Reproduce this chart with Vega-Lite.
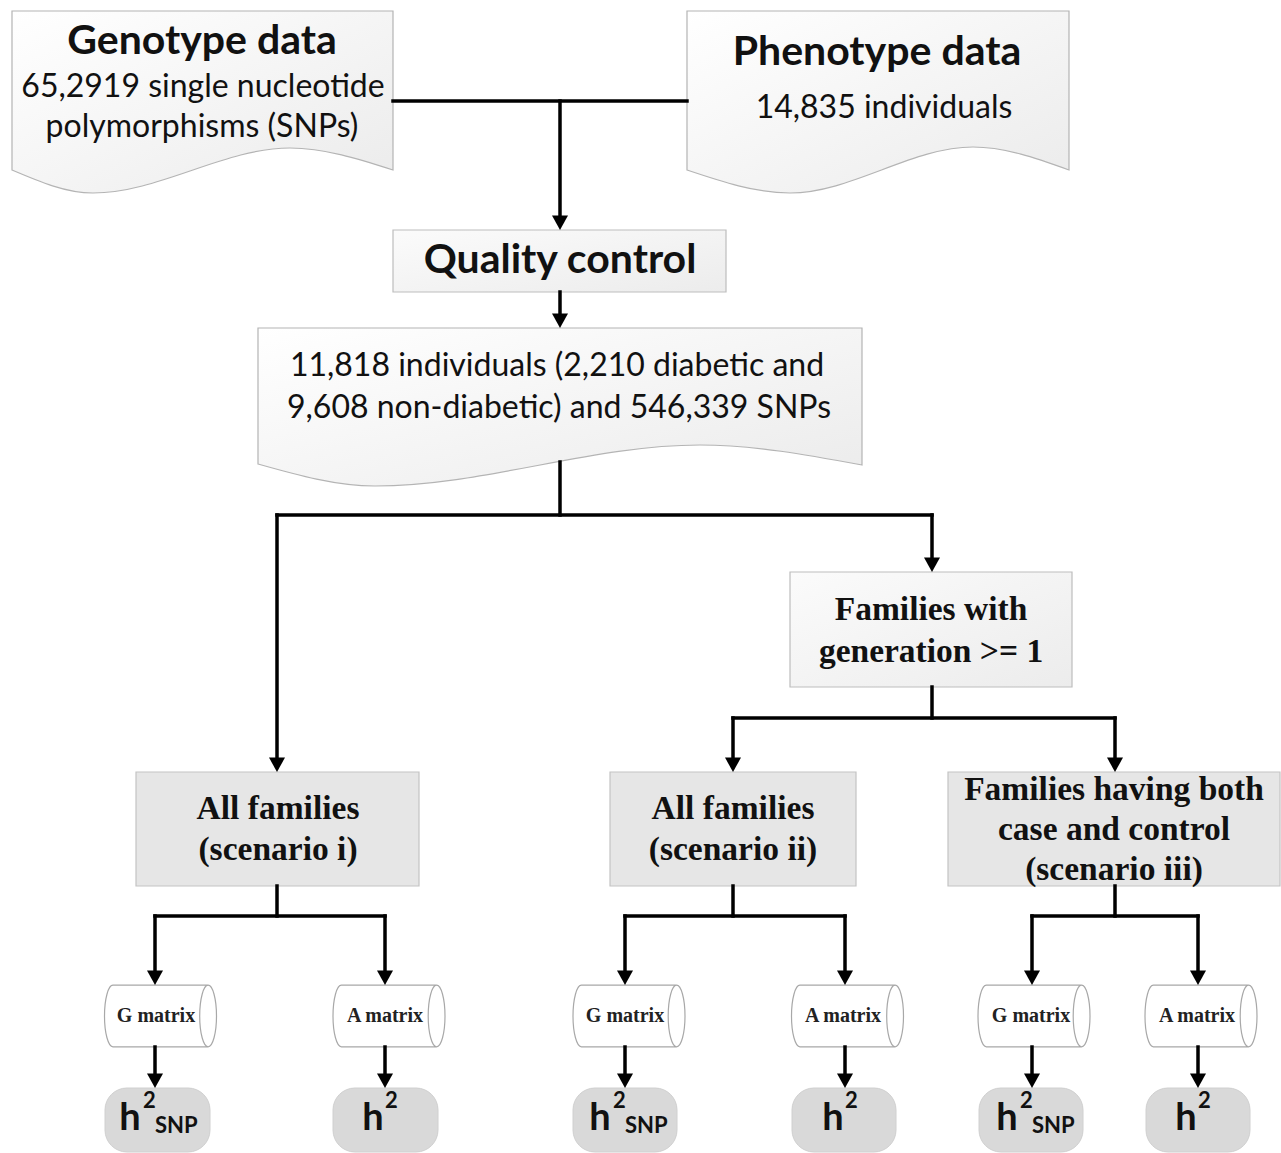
{
  "$schema": "https://vega.github.io/schema/vega-lite/v6.json",
  "width": 1281,
  "height": 1153,
  "padding": 0,
  "autosize": {"type": "none"},
  "background": "white",
  "config": {"view": {"stroke": null}},
  "datasets": {
    "docs": [
      {"doc": "geno", "x": 12, "yb": 170, "yt": 11},
      {"doc": "geno", "x": 93, "yb": 193, "yt": 11},
      {"doc": "geno", "x": 290, "yb": 148, "yt": 11},
      {"doc": "geno", "x": 393, "yb": 170, "yt": 11},
      {"doc": "pheno", "x": 687, "yb": 170, "yt": 11},
      {"doc": "pheno", "x": 790, "yb": 193, "yt": 11},
      {"doc": "pheno", "x": 973, "yb": 147, "yt": 11},
      {"doc": "pheno", "x": 1069, "yb": 170, "yt": 11},
      {"doc": "qc", "x": 258, "yb": 464, "yt": 328},
      {"doc": "qc", "x": 375, "yb": 486, "yt": 328},
      {"doc": "qc", "x": 700, "yb": 445, "yt": 328},
      {"doc": "qc", "x": 862, "yb": 465, "yt": 328}
    ],
    "lightBoxes": [
      {"name": "Quality control", "x1": 393, "x2": 726, "y1": 230, "y2": 292},
      {"name": "Families with generation", "x1": 790, "x2": 1072, "y1": 572, "y2": 687}
    ],
    "grayBoxes": [
      {"name": "scenario i", "x1": 136, "x2": 419, "y1": 772, "y2": 886},
      {"name": "scenario ii", "x1": 610, "x2": 856, "y1": 772, "y2": 886},
      {"name": "scenario iii", "x1": 948, "x2": 1280, "y1": 772, "y2": 886}
    ],
    "hBoxes": [
      {"kind": "SNP", "x1": 105, "x2": 210, "y1": 1088, "y2": 1152},
      {"kind": "A", "x1": 333, "x2": 438, "y1": 1088, "y2": 1152},
      {"kind": "SNP", "x1": 573, "x2": 677, "y1": 1088, "y2": 1152},
      {"kind": "A", "x1": 792, "x2": 896, "y1": 1088, "y2": 1152},
      {"kind": "SNP", "x1": 979, "x2": 1083, "y1": 1088, "y2": 1152},
      {"kind": "A", "x1": 1146, "x2": 1250, "y1": 1088, "y2": 1152}
    ],
    "cylinders": [
      {"label": "G matrix", "cx": 160.5, "cy": 1016},
      {"label": "A matrix", "cx": 389, "cy": 1016},
      {"label": "G matrix", "cx": 629, "cy": 1016},
      {"label": "A matrix", "cx": 847.5, "cy": 1016},
      {"label": "G matrix", "cx": 1034, "cy": 1016},
      {"label": "A matrix", "cx": 1201, "cy": 1016}
    ],
    "cylLabels": [
      {"label": "G matrix", "x": 156, "y": 1022},
      {"label": "A matrix", "x": 385, "y": 1022},
      {"label": "G matrix", "x": 625, "y": 1022},
      {"label": "A matrix", "x": 843, "y": 1022},
      {"label": "G matrix", "x": 1031, "y": 1022},
      {"label": "A matrix", "x": 1197, "y": 1022}
    ],
    "lines": [
      {"x": 393, "y": 101, "x2": 687, "y2": 101},
      {"x": 560, "y": 101, "x2": 560, "y2": 222},
      {"x": 560, "y": 292, "x2": 560, "y2": 320},
      {"x": 560, "y": 462, "x2": 560, "y2": 515},
      {"x": 277, "y": 515, "x2": 932, "y2": 515},
      {"x": 277, "y": 515, "x2": 277, "y2": 764},
      {"x": 932, "y": 515, "x2": 932, "y2": 564},
      {"x": 932, "y": 687, "x2": 932, "y2": 718},
      {"x": 733, "y": 718, "x2": 1115, "y2": 718},
      {"x": 733, "y": 718, "x2": 733, "y2": 764},
      {"x": 1115, "y": 718, "x2": 1115, "y2": 764},
      {"x": 277, "y": 886, "x2": 277, "y2": 916},
      {"x": 155, "y": 916, "x2": 385, "y2": 916},
      {"x": 155, "y": 916, "x2": 155, "y2": 977},
      {"x": 385, "y": 916, "x2": 385, "y2": 977},
      {"x": 733, "y": 886, "x2": 733, "y2": 916},
      {"x": 625, "y": 916, "x2": 845, "y2": 916},
      {"x": 625, "y": 916, "x2": 625, "y2": 977},
      {"x": 845, "y": 916, "x2": 845, "y2": 977},
      {"x": 1115, "y": 886, "x2": 1115, "y2": 916},
      {"x": 1032, "y": 916, "x2": 1198, "y2": 916},
      {"x": 1032, "y": 916, "x2": 1032, "y2": 977},
      {"x": 1198, "y": 916, "x2": 1198, "y2": 977},
      {"x": 155, "y": 1047, "x2": 155, "y2": 1080},
      {"x": 385, "y": 1047, "x2": 385, "y2": 1080},
      {"x": 625, "y": 1047, "x2": 625, "y2": 1080},
      {"x": 845, "y": 1047, "x2": 845, "y2": 1080},
      {"x": 1032, "y": 1047, "x2": 1032, "y2": 1080},
      {"x": 1198, "y": 1047, "x2": 1198, "y2": 1080}
    ],
    "arrows": [
      {"x": 560, "y": 230}, {"x": 560, "y": 328},
      {"x": 277, "y": 772}, {"x": 932, "y": 572},
      {"x": 733, "y": 772}, {"x": 1115, "y": 772},
      {"x": 155, "y": 985}, {"x": 385, "y": 985},
      {"x": 625, "y": 985}, {"x": 845, "y": 985},
      {"x": 1032, "y": 985}, {"x": 1198, "y": 985},
      {"x": 155, "y": 1088}, {"x": 385, "y": 1088},
      {"x": 625, "y": 1088}, {"x": 845, "y": 1088},
      {"x": 1032, "y": 1088}, {"x": 1198, "y": 1088}
    ],
    "headings": [
      {"text": "Genotype data", "x": 202, "y": 54},
      {"text": "Phenotype data", "x": 877, "y": 65},
      {"text": "Quality control", "x": 560, "y": 273}
    ],
    "bodyText": [
      {"text": "65,2919 single nucleotide", "x": 203, "y": 97},
      {"text": "polymorphisms (SNPs)", "x": 202, "y": 137},
      {"text": "14,835 individuals", "x": 884, "y": 118},
      {"text": "11,818 individuals (2,210 diabetic and", "x": 557, "y": 376},
      {"text": "9,608 non-diabetic) and 546,339 SNPs", "x": 559, "y": 418}
    ],
    "serifText": [
      {"text": "Families with", "x": 931, "y": 620},
      {"text": "generation >= 1", "x": 931, "y": 662},
      {"text": "All families", "x": 278, "y": 819},
      {"text": "(scenario i)", "x": 278, "y": 860},
      {"text": "All families", "x": 733, "y": 819},
      {"text": "(scenario ii)", "x": 733, "y": 860},
      {"text": "Families having both", "x": 1114, "y": 800},
      {"text": "case and control", "x": 1114, "y": 840},
      {"text": "(scenario iii)", "x": 1114, "y": 880}
    ],
    "hMain": [
      {"text": "h", "x": 130, "y": 1130},
      {"text": "h", "x": 373, "y": 1130},
      {"text": "h", "x": 600, "y": 1130},
      {"text": "h", "x": 833, "y": 1130},
      {"text": "h", "x": 1007, "y": 1130},
      {"text": "h", "x": 1186, "y": 1130}
    ],
    "hSup": [
      {"text": "2", "x": 143, "y": 1108},
      {"text": "2", "x": 385, "y": 1108},
      {"text": "2", "x": 613, "y": 1108},
      {"text": "2", "x": 845, "y": 1108},
      {"text": "2", "x": 1020, "y": 1108},
      {"text": "2", "x": 1198, "y": 1108}
    ],
    "hSub": [
      {"text": "SNP", "x": 155, "y": 1133},
      {"text": "SNP", "x": 625, "y": 1133},
      {"text": "SNP", "x": 1032, "y": 1133}
    ]
  },
  "encoding": {
    "x": {"type": "quantitative", "axis": null, "scale": {"domain": [0, 1281], "nice": false, "zero": false}},
    "y": {"type": "quantitative", "axis": null, "scale": {"domain": [0, 1153], "reverse": true, "nice": false, "zero": false}}
  },
  "layer": [
    {
      "data": {"name": "docs"},
      "mark": {"type": "area", "interpolate": "monotone", "stroke": "#b4b4b4", "strokeWidth": 1.2, "opacity": 1,
        "fill": {"gradient": "linear", "x1": 0, "y1": 0, "x2": 1, "y2": 1, "stops": [{"offset": 0, "color": "#ffffff"}, {"offset": 1, "color": "#ebebeb"}]}},
      "encoding": {
        "x": {"field": "x", "type": "quantitative"},
        "y": {"field": "yb", "type": "quantitative"},
        "y2": {"field": "yt"},
        "detail": {"field": "doc"}
      }
    },
    {
      "data": {"name": "lightBoxes"},
      "mark": {"type": "rect", "stroke": "#bdbdbd", "strokeWidth": 1.2,
        "fill": {"gradient": "linear", "x1": 0, "y1": 0, "x2": 1, "y2": 1, "stops": [{"offset": 0, "color": "#fbfbfb"}, {"offset": 1, "color": "#ececec"}]}},
      "encoding": {
        "x": {"field": "x1", "type": "quantitative"},
        "x2": {"field": "x2"},
        "y": {"field": "y1", "type": "quantitative"},
        "y2": {"field": "y2"}
      }
    },
    {
      "data": {"name": "grayBoxes"},
      "mark": {"type": "rect", "stroke": "#c4c4c4", "strokeWidth": 1.2, "fill": "#e6e6e6"},
      "encoding": {
        "x": {"field": "x1", "type": "quantitative"},
        "x2": {"field": "x2"},
        "y": {"field": "y1", "type": "quantitative"},
        "y2": {"field": "y2"}
      }
    },
    {
      "data": {"name": "hBoxes"},
      "mark": {"type": "rect", "cornerRadius": 22, "fill": "#d9d9d9", "stroke": "#d0d0d0", "strokeWidth": 1},
      "encoding": {
        "x": {"field": "x1", "type": "quantitative"},
        "x2": {"field": "x2"},
        "y": {"field": "y1", "type": "quantitative"},
        "y2": {"field": "y2"}
      }
    },
    {
      "data": {"name": "cylinders"},
      "mark": {"type": "point", "filled": true, "opacity": 1, "fill": "#ffffff", "stroke": "#a8a8a8", "strokeWidth": 1.2, "size": 12544,
        "shape": "M-0.85,-0.55 L0.85,-0.55 A0.15,0.55 0 0 1 0.85,0.55 L-0.85,0.55 A0.15,0.55 0 0 1 -0.85,-0.55 Z M0.85,0.55 A0.15,0.55 0 0 1 0.85,-0.55"},
      "encoding": {
        "x": {"field": "cx", "type": "quantitative"},
        "y": {"field": "cy", "type": "quantitative"}
      }
    },
    {
      "data": {"name": "lines"},
      "mark": {"type": "rule", "color": "#000000", "strokeWidth": 3.5, "strokeCap": "square"},
      "encoding": {
        "x": {"field": "x", "type": "quantitative"},
        "y": {"field": "y", "type": "quantitative"},
        "x2": {"field": "x2"},
        "y2": {"field": "y2"}
      }
    },
    {
      "data": {"name": "arrows"},
      "mark": {"type": "point", "filled": true, "opacity": 1, "color": "#000000", "size": 256, "shape": "M-1,-1.8 L1,-1.8 L0,0 Z"},
      "encoding": {
        "x": {"field": "x", "type": "quantitative"},
        "y": {"field": "y", "type": "quantitative"}
      }
    },
    {
      "data": {"name": "headings"},
      "mark": {"type": "text", "font": "Lato", "fontWeight": "bold", "fontSize": 41, "align": "center", "baseline": "alphabetic", "color": "#111111"},
      "encoding": {
        "x": {"field": "x", "type": "quantitative"},
        "y": {"field": "y", "type": "quantitative"},
        "text": {"field": "text"}
      }
    },
    {
      "data": {"name": "bodyText"},
      "mark": {"type": "text", "font": "Lato", "fontSize": 32, "align": "center", "baseline": "alphabetic", "color": "#111111"},
      "encoding": {
        "x": {"field": "x", "type": "quantitative"},
        "y": {"field": "y", "type": "quantitative"},
        "text": {"field": "text"}
      }
    },
    {
      "data": {"name": "serifText"},
      "mark": {"type": "text", "font": "Liberation Serif", "fontWeight": "bold", "fontSize": 33.5, "align": "center", "baseline": "alphabetic", "color": "#111111"},
      "encoding": {
        "x": {"field": "x", "type": "quantitative"},
        "y": {"field": "y", "type": "quantitative"},
        "text": {"field": "text"}
      }
    },
    {
      "data": {"name": "cylLabels"},
      "mark": {"type": "text", "font": "Liberation Serif", "fontWeight": "bold", "fontSize": 20, "align": "center", "baseline": "alphabetic", "color": "#222222"},
      "encoding": {
        "x": {"field": "x", "type": "quantitative"},
        "y": {"field": "y", "type": "quantitative"},
        "text": {"field": "label"}
      }
    },
    {
      "data": {"name": "hMain"},
      "mark": {"type": "text", "font": "Lato", "fontWeight": "bold", "fontSize": 38, "align": "center", "baseline": "alphabetic", "color": "#111111"},
      "encoding": {
        "x": {"field": "x", "type": "quantitative"},
        "y": {"field": "y", "type": "quantitative"},
        "text": {"field": "text"}
      }
    },
    {
      "data": {"name": "hSup"},
      "mark": {"type": "text", "font": "Lato", "fontWeight": "bold", "fontSize": 22, "align": "left", "baseline": "alphabetic", "color": "#111111"},
      "encoding": {
        "x": {"field": "x", "type": "quantitative"},
        "y": {"field": "y", "type": "quantitative"},
        "text": {"field": "text"}
      }
    },
    {
      "data": {"name": "hSub"},
      "mark": {"type": "text", "font": "Lato", "fontWeight": "bold", "fontSize": 22, "align": "left", "baseline": "alphabetic", "color": "#111111"},
      "encoding": {
        "x": {"field": "x", "type": "quantitative"},
        "y": {"field": "y", "type": "quantitative"},
        "text": {"field": "text"}
      }
    }
  ]
}
